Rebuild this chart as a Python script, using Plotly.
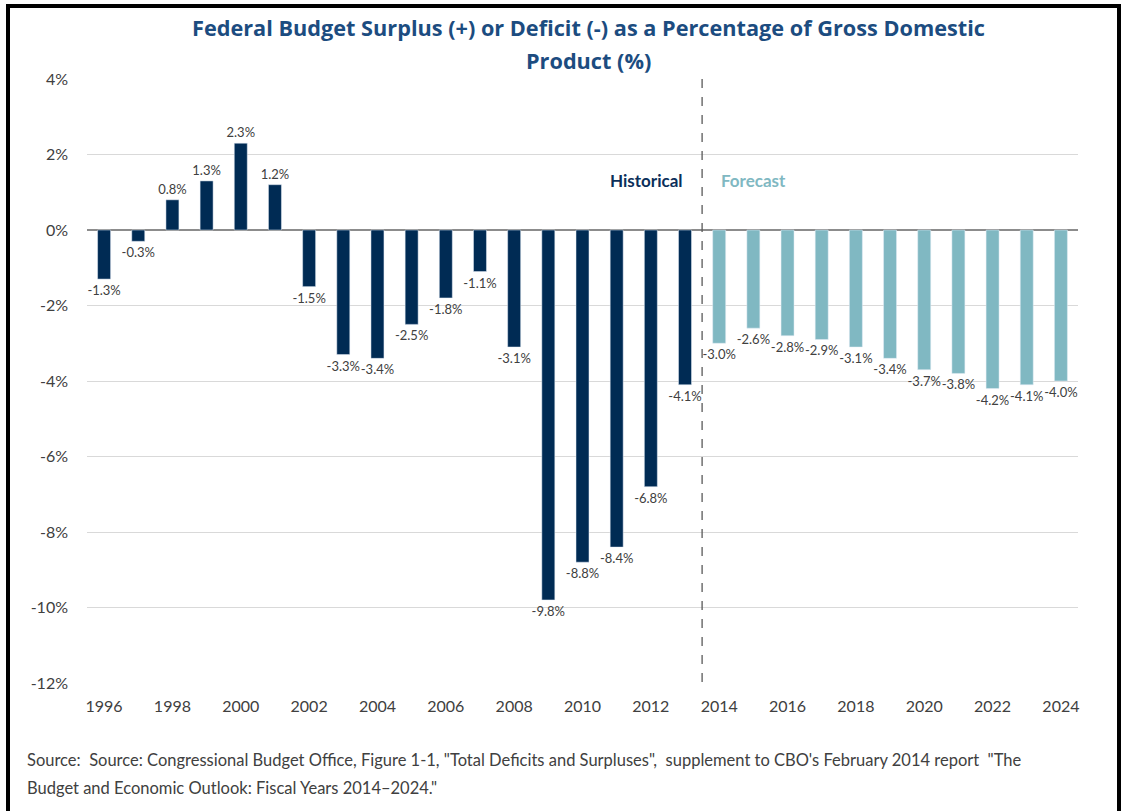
import plotly.graph_objects as go

hist_years = list(range(1996, 2014))
hist_vals = [-1.3, -0.3, 0.8, 1.3, 2.3, 1.2, -1.5, -3.3, -3.4, -2.5, -1.8, -1.1, -3.1, -9.8, -8.8, -8.4, -6.8, -4.1]
fc_years = list(range(2014, 2025))
fc_vals = [-3.0, -2.6, -2.8, -2.9, -3.1, -3.4, -3.7, -3.8, -4.2, -4.1, -4.0]
x_ticks = list(range(1996, 2025, 2))
y_ticks = [-12, -10, -8, -6, -4, -2, 0, 2, 4]

HIST_COLOR = "#002B54"
FC_COLOR = "#80B8C2"
FONT = "Lato"

W, H = 1121, 811
PL, PR, PT, PB = 87, 1078, 79, 683
PW, PH = PR - PL, PB - PT


def px(x):
    return (x - PL) / PW


def py(y):
    return (PB - y) / PH


fig = go.Figure()
fig.add_trace(go.Bar(x=hist_years, y=hist_vals, marker_color=HIST_COLOR,
                     text=[f"{v:.1f}%" for v in hist_vals], textposition="outside",
                     textfont=dict(size=13, color="#404040", family=FONT),
                     cliponaxis=False, showlegend=False, name="Historical"))
fig.add_trace(go.Bar(x=fc_years, y=fc_vals, marker_color=FC_COLOR,
                     text=[f"{v:.1f}%" for v in fc_vals], textposition="outside",
                     textfont=dict(size=13, color="#404040", family=FONT),
                     cliponaxis=False, showlegend=False, name="Forecast"))

fig.update_layout(
    width=W, height=H,
    margin=dict(l=PL, r=W - PR, t=PT, b=H - PB),
    paper_bgcolor="white", plot_bgcolor="white",
    bargap=0.62, barmode="overlay",
    font=dict(family=FONT, color="#404040"),
    uniformtext=dict(minsize=13, mode="show"),
)
fig.update_xaxes(range=[1995.5, 2024.5], tickvals=x_ticks, ticktext=[str(t) for t in x_ticks],
                 showgrid=False, zeroline=False, showline=False,
                 tickfont=dict(size=16, color="#404040"), ticks="", ticklabelstandoff=12)
fig.update_yaxes(range=[-12, 4], tickvals=y_ticks, ticktext=[f"{t}%" for t in y_ticks],
                 showgrid=True, gridcolor="#D9D9D9", gridwidth=1,
                 zeroline=True, zerolinecolor="#8C8C8C", zerolinewidth=1.5,
                 tickfont=dict(size=16, color="#404040"), ticks="", ticklabelstandoff=18)

# title (two lines)
title_font = dict(size=21.7, color="#1C4C80", family="Open Sans", weight="bold")
fig.add_annotation(x=px(588), y=py(28), xref="paper", yref="paper", showarrow=False,
                   xanchor="center", yanchor="middle",
                   text="Federal Budget Surplus (+) or Deficit (-) as a Percentage of Gross Domestic",
                   font=title_font)
fig.add_annotation(x=px(588), y=py(60), xref="paper", yref="paper", showarrow=False,
                   xanchor="center", yanchor="middle", text="Product (%)", font=title_font)

# divider between historical and forecast
fig.add_shape(type="line", x0=2013.5, x1=2013.5, y0=4, y1=-12, xref="x", yref="y",
              line=dict(color="#595959", width=1.3, dash="dash"))

fig.add_annotation(x=2013.0, y=1.3, xref="x", yref="y", text="<b>Historical</b>", showarrow=False,
                   xanchor="right", font=dict(size=17, color="#0B2F5A", family=FONT))
fig.add_annotation(x=2014.0, y=1.3, xref="x", yref="y", text="<b>Forecast</b>", showarrow=False,
                   xanchor="left", font=dict(size=17, color="#80B8C2", family=FONT))

src_font = dict(size=16.5, color="#404040", family=FONT)
fig.add_annotation(x=px(25), y=py(760), xref="paper", yref="paper", xanchor="left", yanchor="middle",
                   showarrow=False, font=src_font,
                   text="Source:  Source: Congressional Budget Office, Figure 1-1, \"Total Deficits and Surpluses\",  supplement to CBO's February 2014 report  \"The")
fig.add_annotation(x=px(25), y=py(788), xref="paper", yref="paper", xanchor="left", yanchor="middle",
                   showarrow=False, font=src_font,
                   text="Budget and Economic Outlook: Fiscal Years 2014\u20132024.\"")

# outer black frame
fig.add_shape(type="rect", xref="paper", yref="paper",
              x0=px(8), x1=px(1119), y0=py(830), y1=py(6),
              line=dict(color="black", width=4), fillcolor="rgba(0,0,0,0)", layer="above")

fig.write_html("out.html", config={"displayModeBar": False},
               post_script="document.body.style.margin='0';document.body.style.overflow='hidden';")
